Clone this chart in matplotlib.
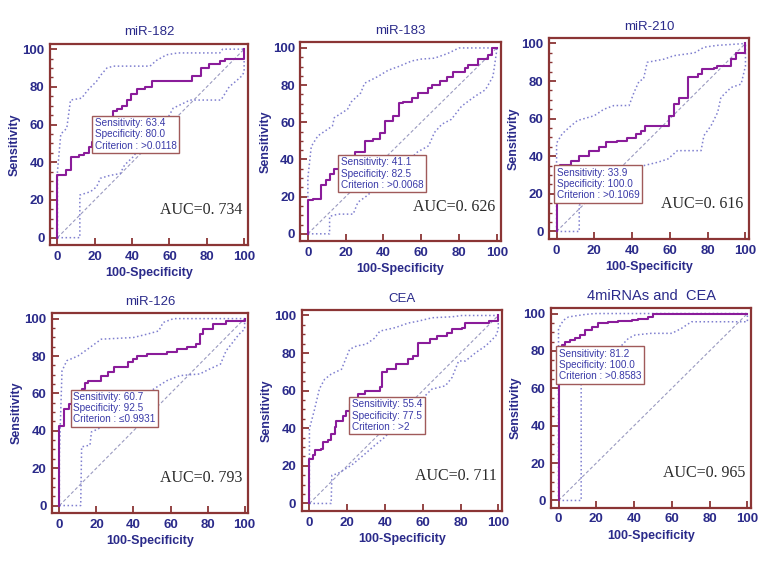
import matplotlib
matplotlib.use('Agg')
import matplotlib.pyplot as plt
from matplotlib.ticker import MultipleLocator

plt.rcParams['font.family'] = ['Liberation Sans', 'DejaVu Sans']

titles = ['miR-182', 'miR-183', 'miR-210', 'miR-126', 'CEA', '4miRNAs and  CEA']
auc_labels = ['AUC=0. 734', 'AUC=0. 626', 'AUC=0. 616', 'AUC=0. 793', 'AUC=0. 711', 'AUC=0. 965']
sens_vals = ['63.4', '41.1', '33.9', '60.7', '55.4', '81.2']
spec_vals = ['80.0', '82.5', '100.0', '92.5', '77.5', '100.0']
crit_vals = ['>0.0118', '>0.0068', '>0.1069', '\u22640.9931', '>2', '>0.8583']
# operating point (100-specificity, sensitivity)
op_x = [20, 17.5, 0, 7.5, 22.5, 0]
op_y = [63.4, 41.1, 33.9, 60.7, 55.4, 81.2]

# ROC curves (steps: x where the step up happens, new sensitivity)
roc_182_x = [0, 0, 4.4, 7, 11.5, 14, 17, 18.6, 20, 30, 32, 34.5, 37, 39.5, 42.5, 47, 50.4, 72, 77, 81, 87, 90, 100]
roc_182_y = [0, 33, 36, 43, 44, 45, 48, 51, 63.4, 67, 68, 70, 73, 76, 79, 80, 83, 86, 90, 92, 93.5, 95, 100]
roc_183_x = [0, 0, 2.7, 7, 9.7, 11.5, 14, 17.5, 19.5, 25, 30, 34.5, 38, 40.7, 45, 48, 50.4, 55, 58.4, 63.7,
             65.5, 70, 73.5, 77, 83, 85, 90, 95.6, 97.3, 100]
roc_183_y = [0, 18, 19, 26, 29, 32.4, 35, 41.1, 42, 44, 50, 51, 54.5, 60.7, 63.4, 70.4, 71, 73, 75.7, 78.4,
             80, 82, 84.6, 87, 89, 91, 94, 96, 100, 100]
roc_210_x = [0, 0, 2, 7.4, 12, 17, 22.5, 26, 32, 37.5, 42, 44.6, 47, 59.6, 60.5, 62.3, 65, 69.4, 74.7, 77,
             83.5, 85, 92.4, 95, 100, 100]
roc_210_y = [0, 33.9, 35.4, 37.7, 40, 43, 44.8, 47.4, 48.3, 49.6, 52, 53.6, 56.3, 61.6, 61.6, 67.8, 71, 82,
             83.7, 86.4, 87, 88, 91.7, 95, 99, 100]
roc_126_x = [0, 0, 2.3, 4, 5, 6.7, 7.5, 12, 14, 15.6, 22.6, 26, 29.7, 36.8, 39.5, 42, 47.4, 58, 63.4, 68.7,
             74, 75.8, 77.5, 82.8, 90, 100]
roc_126_y = [0, 42.5, 51.4, 51.4, 54.4, 57, 60.7, 62.4, 65.4, 66.8, 69.5, 71.3, 74, 76.6, 78.4, 80, 81, 82,
             83.7, 84.6, 86.4, 91.7, 94.7, 97, 98.7, 100]
roc_cea_x = [0, 0, 1.8, 2.7, 6.2, 7, 9.8, 11.5, 13.3, 14.2, 17.8, 19.5, 21.3, 22.5, 25.8, 29.3, 37.3, 38.2,
             41, 46, 52.4, 55, 57.7, 64, 67.5, 72.8, 75.5, 80.8, 82.6, 95, 100]
roc_cea_y = [0, 23.8, 25.6, 28.2, 29, 32.6, 33.5, 37, 40.6, 44, 46.7, 49.4, 53, 55.4, 58.2, 60, 61.7, 69.7,
             71.4, 74, 76.7, 78.5, 85.5, 87.3, 89, 90.8, 92.6, 93.5, 96, 97, 100]
roc_all_x = [0, 0, 1.8, 3.5, 6.2, 8.8, 11.4, 14, 17.6, 21, 26.4, 31.7, 38.7, 42.3, 47.5, 50.2, 100]
roc_all_y = [0, 81.2, 83, 85, 85.8, 86.7, 88.5, 91, 92.9, 94.7, 95.6, 96, 96.4, 97.3, 98.2, 100, 100]

# 95% confidence bounds (dotted)
up_182_x = [0, 0, 1.8, 5, 7, 13, 16, 21, 23, 26.5, 30, 49.6, 53, 58.4, 64.6, 87, 88.5, 100]
up_182_y = [0, 35, 55, 58, 73, 74, 78, 83, 86, 90, 91, 91, 94, 97, 98, 98, 100, 100]
lo_182_x = [0, 12, 12, 17.7, 21, 23, 28, 33.6, 36, 40.7, 44, 51, 56.6, 62, 69, 70.8, 87.6, 92, 95.6, 99, 100, 100]
lo_182_y = [0, 0, 22.6, 24.4, 27, 31.5, 33, 34, 38.6, 43, 48, 52, 59, 68.7, 72, 73, 73, 80, 83, 86, 88, 100]
up_183_x = [0, 0, 1.8, 5.3, 13, 14, 21, 23, 28, 30, 37, 42.5, 48, 55, 60, 67, 74, 80, 100]
up_183_y = [0, 30, 47, 52.7, 58, 62.5, 67, 71, 75.8, 81, 84.6, 88, 90, 93, 94, 94.5, 97, 100, 100]
lo_183_x = [0, 11.5, 11.5, 16, 24, 26.5, 32, 37, 44, 51, 58, 64, 67, 71, 76, 81.4, 88.5, 94, 98, 100, 100]
lo_183_y = [0, 0, 9.4, 10.6, 10.6, 17, 21, 27, 30, 37, 44, 47.4, 54.5, 59, 61.6, 68.7, 74, 77.5, 84.6, 98.7, 100]
up_210_x = [0, 0, 3, 7.4, 11, 20, 25, 30.4, 38.4, 41, 43.7, 46, 48, 57, 62, 73, 78, 85, 100]
up_210_y = [0, 47, 52, 56, 59, 61.6, 65, 67, 67, 74, 80, 81, 90, 91.7, 93.5, 95, 98, 99, 100]
lo_210_x = [0, 12, 12, 17, 25, 32, 39, 46, 53.5, 59, 64, 76.5, 78, 81.8, 85.3, 87, 92.4, 97.7, 100, 100]
lo_210_y = [0, 0, 13.8, 19, 24.4, 28, 33, 35, 36.8, 38.6, 43, 43, 51, 56.3, 63.4, 71.3, 76.6, 78.4, 88, 100]
up_126_x = [0, 0, 1.4, 4, 10, 14, 19, 22.6, 40, 47.4, 53.6, 56, 61.6, 100]
up_126_y = [0, 27, 72, 77.5, 80, 82.8, 86.4, 89, 89.9, 91.7, 93.4, 97.9, 100, 100]
lo_126_x = [0, 11.5, 12, 16.5, 17.3, 21, 28, 33, 44, 51, 58, 65, 75.8, 81, 87, 90, 93.5, 97, 100, 100]
lo_126_y = [0, 0, 31.4, 32.3, 39.4, 41, 48.2, 53.5, 57, 62.4, 66.8, 69.5, 70.4, 73, 75.7, 82.8, 87.2, 91.7, 94.3, 100]
up_cea_x = [0, 0, 2.7, 5.3, 8, 11.5, 17, 19.5, 21.3, 25, 30, 34.6, 37.3, 45.3, 52.4, 57.7, 65, 75.5, 80.8, 100]
up_cea_y = [0, 39.7, 50, 61, 66, 68.8, 71.4, 77.6, 82, 83.8, 84.7, 88, 91.7, 93.5, 96, 97, 98.8, 99.3, 100, 100]
lo_cea_x = [0, 11.5, 11.9, 15, 22.2, 27.5, 34.6, 40, 45.3, 54, 61.3, 64.8, 72, 75.5, 79, 82.6, 88, 93.3, 98.6, 100, 100]
lo_cea_y = [0, 0, 15, 15.9, 20.3, 24.7, 30.9, 35.3, 41.4, 50.3, 57.3, 60.8, 62.6, 67, 75.8, 75.8, 80.2, 83.8, 89, 92.6, 100]
up_all_x = [0, 0, 2.6, 5.3, 14, 19.4, 100]
up_all_y = [0, 92, 96.4, 98.2, 99.5, 100, 100]
lo_all_x = [0, 12, 12, 30, 33.5, 37, 40.5, 49, 60, 65, 70.4, 100, 100]
lo_all_y = [0, 0, 80, 80, 83, 86.7, 88.5, 89.4, 89.4, 92, 95.6, 95.6, 100]

roc_x = [roc_182_x, roc_183_x, roc_210_x, roc_126_x, roc_cea_x, roc_all_x]
roc_y = [roc_182_y, roc_183_y, roc_210_y, roc_126_y, roc_cea_y, roc_all_y]
up_x = [up_182_x, up_183_x, up_210_x, up_126_x, up_cea_x, up_all_x]
up_y = [up_182_y, up_183_y, up_210_y, up_126_y, up_cea_y, up_all_y]
lo_x = [lo_182_x, lo_183_x, lo_210_x, lo_126_x, lo_cea_x, lo_all_x]
lo_y = [lo_182_y, lo_183_y, lo_210_y, lo_126_y, lo_cea_y, lo_all_y]

frame_col = '#8b3535'
navy = '#2a2a8a'
curve_col = '#8a1c9a'
ci_col = '#7f7fcf'
diag_col = '#9a9ac0'

# axes rectangles in figure fraction
rects = [[0.0644, 0.566, 0.255, 0.357],
         [0.387, 0.573, 0.258, 0.352],
         [0.7075, 0.577, 0.258, 0.356],
         [0.067, 0.092, 0.253, 0.354],
         [0.389, 0.0956, 0.258, 0.356],
         [0.710, 0.101, 0.258, 0.354]]
title_sizes = [9.5, 9.5, 9.5, 9.5, 9.5, 10.5]

fig = plt.figure(figsize=(7.76, 5.65), dpi=100)

for i in range(6):
    ax = fig.add_axes(rects[i])
    ax.plot([0, 100], [0, 100], '--', color=diag_col, lw=0.8, dashes=(3, 2))
    ax.plot(up_x[i], up_y[i], ':', color=ci_col, lw=1.1)
    ax.plot(lo_x[i], lo_y[i], ':', color=ci_col, lw=1.1)
    ax.step(roc_x[i], roc_y[i], where='post', color=curve_col, lw=1.5)

    txt = 'Sensitivity: %s\nSpecificity: %s\nCriterion : %s' % (sens_vals[i], spec_vals[i], crit_vals[i])
    ax.text(op_x[i], op_y[i], txt, ha='left', va='top', fontsize=7.2, color='#3a3aa8',
            linespacing=1.15, zorder=5,
            bbox=dict(boxstyle='square,pad=0.25', fc='white', ec='#a05a5a', lw=1.0))
    ax.text(99, 14.5, auc_labels[i], ha='right', va='center', fontsize=11.5,
            family=['Liberation Serif', 'DejaVu Serif'], color='#2a2a2a')

    ax.set_xlim(-4, 102)
    ax.set_ylim(-4, 103)
    ax.set_xticks([0, 20, 40, 60, 80, 100])
    ax.set_yticks([0, 20, 40, 60, 80, 100])
    ax.yaxis.set_minor_locator(MultipleLocator(5))
    ax.tick_params(which='major', direction='in', length=5, width=1.3, color=frame_col,
                   labelsize=9.5, labelcolor=navy, pad=4)
    ax.tick_params(which='minor', direction='in', length=2.5, width=1, color=frame_col)
    for lbl in ax.get_xticklabels() + ax.get_yticklabels():
        lbl.set_fontweight('bold')
    for sp in ax.spines.values():
        sp.set_color(frame_col)
        sp.set_linewidth(1.6)
    ax.set_title(titles[i], fontsize=title_sizes[i], color=navy, pad=6)
    ax.set_xlabel('100-Specificity', fontsize=9, fontweight='bold', color=navy, labelpad=3)
    ax.set_ylabel('Sensitivity', fontsize=9, fontweight='bold', color=navy, labelpad=1)

fig.savefig('out.png', dpi=100)
